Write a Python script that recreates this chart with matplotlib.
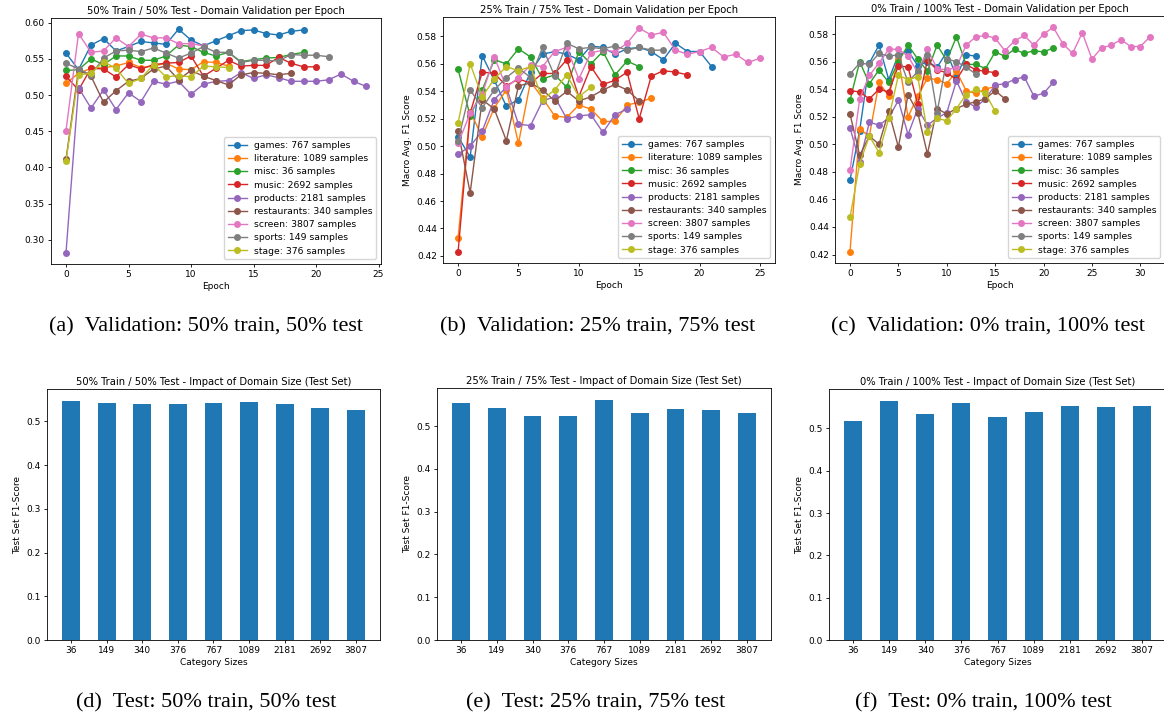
import numpy as np
import matplotlib
matplotlib.use("Agg")
import matplotlib.pyplot as plt

# domains (legend order) and their sizes
domains = ["games", "literature", "misc", "music", "products",
           "restaurants", "screen", "sports", "stage"]
domain_sizes = [767, 1089, 36, 2692, 2181, 340, 3807, 149, 376]

# validation macro F1 per epoch, 50% train / 50% test
a_games = [0.558, 0.535, 0.569, 0.578, 0.561, 0.567, 0.574, 0.572, 0.570, 0.591,
           0.576, 0.568, 0.575, 0.582, 0.589, 0.590, 0.585, 0.583, 0.588, 0.590]
a_literature = [0.516, 0.530, 0.537, 0.538, 0.540, 0.545, 0.538, 0.540, 0.544, 0.536,
                0.535, 0.546, 0.545, 0.540]
a_misc = [0.534, 0.535, 0.550, 0.542, 0.554, 0.554, 0.548, 0.548, 0.554, 0.569,
          0.567, 0.559, 0.554, 0.559, 0.546, 0.549, 0.551, 0.552, 0.556, 0.559]
a_music = [0.526, 0.507, 0.537, 0.536, 0.525, 0.542, 0.536, 0.542, 0.544, 0.545,
           0.554, 0.526, 0.537, 0.548, 0.540, 0.541, 0.541, 0.552, 0.544, 0.539, 0.539]
a_products = [0.282, 0.510, 0.482, 0.507, 0.480, 0.503, 0.491, 0.519, 0.515, 0.519,
              0.501, 0.515, 0.519, 0.520, 0.531, 0.523, 0.528, 0.524, 0.519, 0.519,
              0.519, 0.521, 0.529, 0.519, 0.512]
a_restaurants = [0.411, 0.535, 0.526, 0.490, 0.506, 0.519, 0.523, 0.536, 0.540, 0.521,
                 0.534, 0.526, 0.520, 0.514, 0.528, 0.531, 0.530, 0.528, 0.530]
a_screen = [0.451, 0.585, 0.559, 0.561, 0.579, 0.567, 0.584, 0.579, 0.579, 0.571,
            0.571, 0.568]
a_sports = [0.544, 0.536, 0.528, 0.551, 0.561, 0.562, 0.560, 0.565, 0.558, 0.551,
            0.558, 0.567, 0.559, 0.559, 0.545, 0.548, 0.548, 0.547, 0.556, 0.555,
            0.555, 0.553]
a_stage = [0.409, 0.528, 0.530, 0.546, 0.537, 0.516, 0.523, 0.542, 0.525, 0.527,
           0.525, 0.540, 0.539, 0.538]

# 25% train / 75% test
b_games = [0.507, 0.492, 0.566, 0.548, 0.529, 0.534, 0.554, 0.567, 0.569, 0.567,
           0.563, 0.573, 0.572, 0.567, 0.571, 0.572, 0.569, 0.563, 0.575, 0.569,
           0.569, 0.558]
b_literature = [0.433, 0.525, 0.507, 0.528, 0.541, 0.502, 0.547, 0.535, 0.522, 0.521,
                0.530, 0.527, 0.518, 0.518, 0.530, 0.532, 0.535]
b_misc = [0.556, 0.522, 0.541, 0.563, 0.560, 0.571, 0.565, 0.549, 0.552, 0.543,
          0.569, 0.560, 0.569, 0.552, 0.562, 0.558]
b_music = [0.423, 0.524, 0.554, 0.553, 0.544, 0.549, 0.546, 0.553, 0.553, 0.563,
           0.536, 0.558, 0.545, 0.548, 0.554, 0.520, 0.551, 0.555, 0.554, 0.552]
b_products = [0.494, 0.500, 0.511, 0.534, 0.543, 0.516, 0.515, 0.533, 0.536, 0.520,
              0.522, 0.523, 0.510, 0.523, 0.527]
b_restaurants = [0.511, 0.466, 0.534, 0.527, 0.504, 0.544, 0.546, 0.541, 0.533, 0.540,
                 0.533, 0.536, 0.541, 0.545, 0.541, 0.533]
b_screen = [0.502, 0.524, 0.538, 0.565, 0.543, 0.550, 0.559, 0.558, 0.569, 0.572,
            0.549, 0.568, 0.570, 0.569, 0.575, 0.586, 0.581, 0.583, 0.570, 0.567,
            0.569, 0.572, 0.565, 0.567, 0.561, 0.564]
b_sports = [0.504, 0.541, 0.528, 0.541, 0.550, 0.557, 0.550, 0.572, 0.551, 0.575,
            0.571, 0.572, 0.571, 0.573, 0.570, 0.572, 0.570, 0.570]
b_stage = [0.517, 0.560, 0.536, 0.549, 0.558, 0.555, 0.558, 0.534, 0.541, 0.552,
           0.536, 0.543]

# 0% train / 100% test
c_games = [0.474, 0.510, 0.559, 0.572, 0.547, 0.565, 0.568, 0.557, 0.560, 0.556,
           0.567, 0.549, 0.565, 0.564]
c_literature = [0.422, 0.511, 0.506, 0.545, 0.535, 0.562, 0.520, 0.535, 0.548, 0.547,
                0.544, 0.553, 0.539, 0.537, 0.540, 0.542]
c_misc = [0.532, 0.560, 0.544, 0.554, 0.545, 0.560, 0.572, 0.562, 0.553, 0.572,
          0.561, 0.578, 0.558, 0.558, 0.555, 0.567, 0.564, 0.569, 0.566, 0.568,
          0.567, 0.570]
c_music = [0.539, 0.538, 0.533, 0.540, 0.538, 0.557, 0.556, 0.529, 0.561, 0.554,
           0.552, 0.547, 0.558, 0.554, 0.553, 0.552]
c_products = [0.512, 0.487, 0.516, 0.514, 0.519, 0.532, 0.507, 0.526, 0.514, 0.519,
              0.523, 0.546, 0.531, 0.527, 0.533, 0.543, 0.544, 0.547, 0.549, 0.535,
              0.537, 0.545]
c_restaurants = [0.522, 0.492, 0.506, 0.500, 0.524, 0.498, 0.536, 0.523, 0.493, 0.526,
                 0.522, 0.526, 0.529, 0.531, 0.533, 0.539, 0.533]
c_screen = [0.481, 0.533, 0.550, 0.559, 0.569, 0.569, 0.564, 0.552, 0.569, 0.555,
            0.554, 0.556, 0.572, 0.578, 0.579, 0.577, 0.568, 0.575, 0.579, 0.572,
            0.580, 0.585, 0.573, 0.566, 0.581, 0.562, 0.570, 0.572, 0.576, 0.571,
            0.571, 0.578]
c_sports = [0.551, 0.559, 0.558, 0.566, 0.564, 0.565, 0.545, 0.553, 0.565, 0.523,
            0.562, 0.560, 0.556, 0.551]
c_stage = [0.447, 0.486, 0.506, 0.494, 0.519, 0.550, 0.547, 0.549, 0.509, 0.519,
           0.517, 0.526, 0.536, 0.540, 0.537, 0.524]

# test-set F1 by category size
size_labels = ["36", "149", "340", "376", "767", "1089", "2181", "2692", "3807"]
d_test_f1 = [0.547, 0.543, 0.540, 0.540, 0.543, 0.544, 0.541, 0.532, 0.527]
e_test_f1 = [0.555, 0.542, 0.524, 0.523, 0.561, 0.531, 0.541, 0.537, 0.531]
f_test_f1 = [0.517, 0.565, 0.534, 0.559, 0.526, 0.538, 0.553, 0.551, 0.553]

val_sets = [
    [a_games, a_literature, a_misc, a_music, a_products, a_restaurants, a_screen, a_sports, a_stage],
    [b_games, b_literature, b_misc, b_music, b_products, b_restaurants, b_screen, b_sports, b_stage],
    [c_games, c_literature, c_misc, c_music, c_products, c_restaurants, c_screen, c_sports, c_stage],
]
val_titles = ["50% Train / 50% Test - Domain Validation per Epoch",
              "25% Train / 75% Test - Domain Validation per Epoch",
              "0% Train / 100% Test - Domain Validation per Epoch"]
test_sets = [d_test_f1, e_test_f1, f_test_f1]
test_titles = ["50% Train / 50% Test - Impact of Domain Size (Test Set)",
               "25% Train / 75% Test - Impact of Domain Size (Test Set)",
               "0% Train / 100% Test - Impact of Domain Size (Test Set)"]
captions_top = ["(a)  Validation: 50% train, 50% test",
                "(b)  Validation: 25% train, 75% test",
                "(c)  Validation: 0% train, 100% test"]
captions_bot = ["(d)  Test: 50% train, 50% test",
                "(e)  Test: 25% train, 75% test",
                "(f)  Test: 0% train, 100% test"]

W, H = 1164, 719
fig = plt.figure(figsize=(W / 100, H / 100), dpi=100)

def box(l, r, t, b):
    return [l / W, 1 - b / H, (r - l) / W, (b - t) / H]

top_boxes = [box(51, 381, 18, 264), box(443, 775, 17, 263), box(835, 1165, 16, 263)]
bot_boxes = [box(47, 380, 389, 640), box(437, 771, 388, 640), box(829, 1166, 389, 640)]
cap_x = [206, 598, 988]
cap_x_bot = [206, 596, 983]

fs = 6.5
for i in range(3):
    ax = fig.add_axes(top_boxes[i])
    for name, size, vals in zip(domains, domain_sizes, val_sets[i]):
        ax.plot(range(len(vals)), vals, marker="o", ms=4, lw=1.0,
                label=f"{name}: {size} samples")
    ax.set_title(val_titles[i], fontsize=7.2, pad=3)
    ax.set_xlabel("Epoch", fontsize=fs, labelpad=2)
    if i > 0:
        # the first panel's y label is cut off in the source figure
        ax.set_ylabel("Macro Avg. F1 Score", fontsize=fs, labelpad=3)
    ax.tick_params(labelsize=fs, length=2.5, pad=2, width=0.6)
    for s in ax.spines.values():
        s.set_linewidth(0.6)
    ax.legend(loc="lower right", fontsize=6.7, handlelength=2.0,
              borderpad=0.4, labelspacing=0.45, framealpha=0.8)
    fig.text(cap_x[i] / W, 1 - 327 / H, captions_top[i], ha="center", va="center",
             fontsize=16, family="Liberation Serif")

for i in range(3):
    ax = fig.add_axes(bot_boxes[i])
    ax.bar(size_labels, test_sets[i], width=0.5, color="#1f77b4")
    ax.set_title(test_titles[i], fontsize=7.2, pad=3)
    ax.set_xlabel("Category Sizes", fontsize=fs, labelpad=2)
    ax.set_ylabel("Test Set F1-Score", fontsize=fs, labelpad=3)
    ax.tick_params(labelsize=fs, length=2.5, pad=2, width=0.6)
    for s in ax.spines.values():
        s.set_linewidth(0.6)
    fig.text(cap_x_bot[i] / W, 1 - 703 / H, captions_bot[i], ha="center", va="center",
             fontsize=16, family="Liberation Serif")

fig.savefig("out.png", dpi=100)
